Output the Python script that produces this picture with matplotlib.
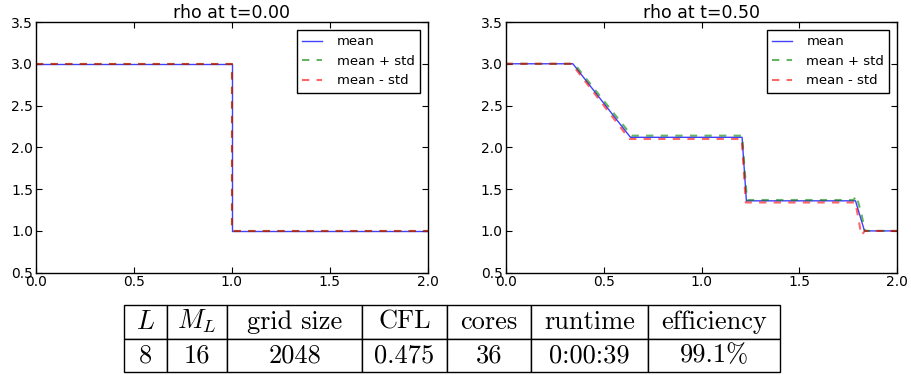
import numpy as np
import matplotlib
matplotlib.use("Agg")
from matplotlib import pyplot as plt

# rho at t=0.00 : step at x=1
x_t0 = [0.0, 1.0, 1.0, 2.0]
rho_t0_mean = [3.0, 3.0, 1.0, 1.0]
rho_t0_plus = [3.0, 3.0, 1.0, 1.0]
rho_t0_minus = [3.0, 3.0, 1.0, 1.0]

# rho at t=0.50 : rarefaction, contact, shock
x_t1_mean = [0.0, 0.343, 0.637, 1.207, 1.229, 1.786, 1.832, 2.0]
rho_t1_mean = [3.0, 3.0, 2.12, 2.12, 1.36, 1.36, 1.0, 1.0]
x_t1_plus = [0.0, 0.350, 0.643, 1.207, 1.232, 1.776, 1.790, 1.815, 1.834, 2.0]
rho_t1_plus = [3.0, 3.0, 2.14, 2.14, 1.37, 1.37, 1.42, 1.22, 1.0, 1.0]
x_t1_minus = [0.0, 0.337, 0.632, 1.205, 1.226, 1.786, 1.816, 1.834, 2.0]
rho_t1_minus = [3.0, 3.0, 2.10, 2.10, 1.34, 1.34, 0.95, 1.0, 1.0]

titles = ["rho at t=0.00", "rho at t=0.50"]
xticks = [0.0, 0.5, 1.0, 1.5, 2.0]
yticks = [0.5, 1.0, 1.5, 2.0, 2.5, 3.0, 3.5]

# table contents
table_header = [r"$L$", r"$M_L$", "grid size", "CFL", "cores", "runtime", "efficiency"]
table_row = ["8", "16", "2048", "0.475", "36", "0:00:39", "99.1%"]
col_widths = [43, 60, 135, 85, 84, 117, 132]

plt.rcParams['mathtext.fontset'] = 'cm'

fig = plt.figure(figsize=(9.11, 3.75), dpi=100)
ax1 = fig.add_axes([36 / 911, 102.3 / 375, 391.7 / 911, 250.7 / 375])
ax2 = fig.add_axes([505.7 / 911, 102.3 / 375, 391.7 / 911, 250.7 / 375])

curves = [
    (x_t0, rho_t0_mean, x_t0, rho_t0_plus, x_t0, rho_t0_minus),
    (x_t1_mean, rho_t1_mean, x_t1_plus, rho_t1_plus, x_t1_minus, rho_t1_minus),
]

for ax, title, c in zip([ax1, ax2], titles, curves):
    xm, ym, xp, yp, xn, yn = c
    ax.plot(xm, ym, color='b', lw=1.0, alpha=0.75, label='mean')
    ax.plot(xp, yp, color='g', lw=1.5, alpha=0.6, dashes=(3.5, 3.5), label='mean + std')
    ax.plot(xn, yn, color='r', lw=1.5, alpha=0.6, dashes=(3.5, 3.5), label='mean - std')
    ax.set_xlim(0, 2)
    ax.set_ylim(0.5, 3.5)
    ax.set_xticks(xticks)
    ax.set_yticks(yticks)
    ax.tick_params(direction='in', top=True, right=True, length=4, pad=2, labelsize=10)
    ax.set_title(title, fontsize=12.5, pad=3)
    for s in ax.spines.values():
        s.set_linewidth(1.0)
    leg = ax.legend(loc='upper right', fontsize=9.5, fancybox=False, framealpha=1,
                    handlelength=1.5, handletextpad=1.1, labelspacing=0.5,
                    borderaxespad=0.6)
    leg.get_frame().set_edgecolor('k')

# table below the plots
tax = fig.add_axes([124 / 911, 3 / 375, 656 / 911, 67 / 375])
tax.axis('off')
widths = np.array(col_widths) / sum(col_widths)
tbl = tax.table(cellText=[table_header, table_row], colWidths=widths,
                cellLoc='center', bbox=[0, 0, 1, 1])
tbl.auto_set_font_size(False)
for (r, col), cell in tbl.get_celld().items():
    cell.set_linewidth(1.0)
    cell.set_edgecolor('k')
    txt = cell.get_text()
    txt.set_fontsize(19)
    if not txt.get_text().startswith('$'):
        txt.set_fontfamily('cmr10')

fig.savefig('out.png', dpi=100)
